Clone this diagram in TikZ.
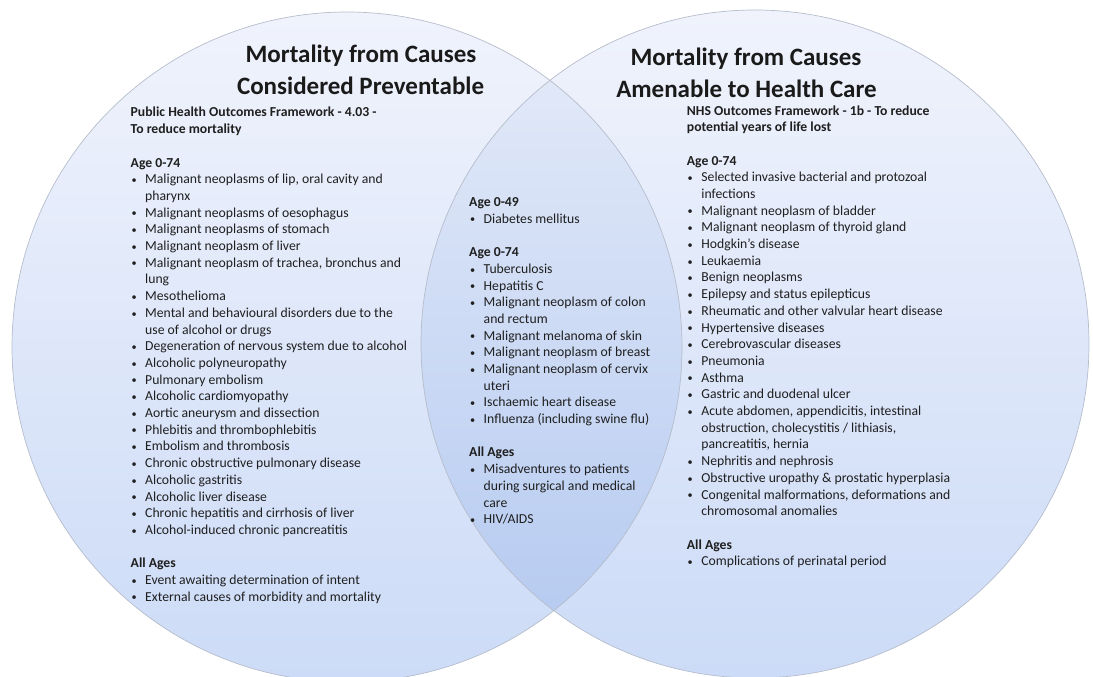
\documentclass[tikz,border=0pt]{standalone}
\usepackage{fontspec}
\setmainfont{Carlito}

\definecolor{vennTop}{HTML}{F0F3FC}
\definecolor{vennBot}{HTML}{CCDBF7}
\definecolor{lensTop}{HTML}{E6ECF9}
\definecolor{lensBot}{HTML}{B2C8F0}
\definecolor{vennLine}{HTML}{B6BDCB}
\definecolor{headText}{HTML}{1A1A1A}
\definecolor{bodyText}{HTML}{1F1F1F}

% list helpers for the three text blocks
\newcommand{\lsthead}[1]{\par\noindent\textbf{#1}}
\newcommand{\lstitem}[1]{\par\hangindent=14.5pt\hangafter=1\noindent\hbox to 14.5pt{\hskip0.8pt\raisebox{0.3pt}{\scalebox{0.75}{\textbullet}}\hfil}#1}
\newcommand{\lstgap}{\par\vspace{16.7pt}}
\newcommand{\lstbox}[1]{\vtop{\hsize=330pt\parindent=0pt\parskip=0pt\raggedright #1\par}}

\tikzset{
  headline/.style={font=\fontsize{25}{32}\selectfont\bfseries, text=headText, inner sep=0pt, anchor=base},
  listblock/.style={font=\fontsize{13.7}{16.7}\selectfont, text=bodyText, inner sep=0pt, anchor=base west},
}

\begin{document}
\begin{tikzpicture}[x=1pt,y=-1pt]
 \useasboundingbox (0,0) rectangle (1093,677);
 \coordinate (lc) at (347,347);
 \coordinate (rc) at (755,344);

 % the two sets and their overlap
 \begin{scope}
  \clip (0,0) rectangle (1093,677);
  \shade[top color=vennTop,bottom color=vennBot] (lc) circle[radius=335];
  \shade[top color=vennTop,bottom color=vennBot] (rc) circle[radius=334];
  \begin{scope}
   \clip (lc) circle[radius=335];
   \shade[top color=lensTop,bottom color=lensBot] (rc) circle[radius=334];
  \end{scope}
  \draw[vennLine,line width=0.7pt] (lc) circle[radius=335];
  \draw[vennLine,line width=0.7pt] (rc) circle[radius=334];
 \end{scope}

 % titles
 \node[headline] (lt1) at (361,63) {Mortality from Causes};
 \node[headline] (lt2) at (360.6,95) {Considered Preventable};
 \node[headline] (rt1) at (746,66) {Mortality from Causes};
 \node[headline] (rt2) at (746.5,97) {Amenable to Health Care};

 % preventable only
 \node[listblock] (phof) at (130.5,117) {\lstbox{%
  \lsthead{Public Health Outcomes Framework - 4.03 -\newline To reduce mortality}
  \lstgap
  \lsthead{Age 0-74}
  \lstitem{Malignant neoplasms of lip, oral cavity and\newline pharynx}
  \lstitem{Malignant neoplasms of oesophagus}
  \lstitem{Malignant neoplasms of stomach}
  \lstitem{Malignant neoplasm of liver}
  \lstitem{Malignant neoplasm of trachea, bronchus and\newline lung}
  \lstitem{Mesothelioma}
  \lstitem{Mental and behavioural disorders due to the\newline use of alcohol or drugs}
  \lstitem{Degeneration of nervous system due to alcohol}
  \lstitem{Alcoholic polyneuropathy}
  \lstitem{Pulmonary embolism}
  \lstitem{Alcoholic cardiomyopathy}
  \lstitem{Aortic aneurysm and dissection}
  \lstitem{Phlebitis and thrombophlebitis}
  \lstitem{Embolism and thrombosis}
  \lstitem{Chronic obstructive pulmonary disease}
  \lstitem{Alcoholic gastritis}
  \lstitem{Alcoholic liver disease}
  \lstitem{Chronic hepatitis and cirrhosis of liver}
  \lstitem{Alcohol-induced chronic pancreatitis}
  \lstgap
  \lsthead{All Ages}
  \lstitem{Event awaiting determination of intent}
  \lstitem{External causes of morbidity and mortality}}};

 % both
 \node[listblock] (both) at (469,206.5) {\lstbox{%
  \lsthead{Age 0-49}
  \lstitem{Diabetes mellitus}
  \lstgap
  \lsthead{Age 0-74}
  \lstitem{Tuberculosis}
  \lstitem{Hepatitis C}
  \lstitem{Malignant neoplasm of colon\newline and rectum}
  \lstitem{Malignant melanoma of skin}
  \lstitem{Malignant neoplasm of breast}
  \lstitem{Malignant neoplasm of cervix\newline uteri}
  \lstitem{Ischaemic heart disease}
  \lstitem{Influenza (including swine flu)}
  \lstgap
  \lsthead{All Ages}
  \lstitem{Misadventures to patients\newline during surgical and medical\newline care}
  \lstitem{HIV/AIDS}}};

 % amenable only
 \node[listblock] (nhsof) at (686.7,115) {\lstbox{%
  \lsthead{NHS Outcomes Framework - 1b - To reduce\newline potential years of life lost}
  \lstgap
  \lsthead{Age 0-74}
  \lstitem{Selected invasive bacterial and protozoal\newline infections}
  \lstitem{Malignant neoplasm of bladder}
  \lstitem{Malignant neoplasm of thyroid gland}
  \lstitem{Hodgkin's disease}
  \lstitem{Leukaemia}
  \lstitem{Benign neoplasms}
  \lstitem{Epilepsy and status epilepticus}
  \lstitem{Rheumatic and other valvular heart disease}
  \lstitem{Hypertensive diseases}
  \lstitem{Cerebrovascular diseases}
  \lstitem{Pneumonia}
  \lstitem{Asthma}
  \lstitem{Gastric and duodenal ulcer}
  \lstitem{Acute abdomen, appendicitis, intestinal\newline obstruction, cholecystitis / lithiasis,\newline pancreatitis, hernia}
  \lstitem{Nephritis and nephrosis}
  \lstitem{Obstructive uropathy \& prostatic hyperplasia}
  \lstitem{Congenital malformations, deformations and\newline chromosomal anomalies}
  \lstgap
  \lsthead{All Ages}
  \lstitem{Complications of perinatal period}}};
\end{tikzpicture}
\end{document}
